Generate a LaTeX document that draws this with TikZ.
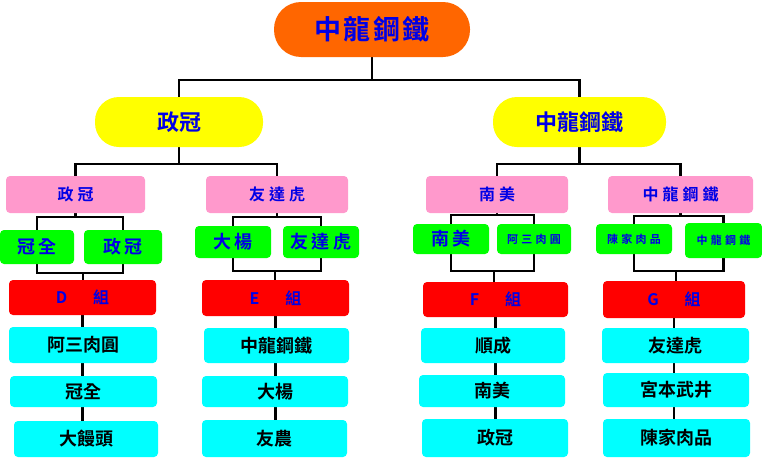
\documentclass[tikz,border=0pt]{standalone}
\usepackage{fontspec}
\newfontfamily\cjk{Noto Sans CJK TC}[BoldFont={Noto Sans CJK TC Bold}]
\usetikzlibrary{backgrounds}
\definecolor{orangeC}{RGB}{255,102,0}
\definecolor{yellowC}{RGB}{255,255,0}
\definecolor{pinkC}{RGB}{255,153,204}
\definecolor{greenC}{RGB}{0,255,0}
\definecolor{redC}{RGB}{255,0,0}
\definecolor{cyanC}{RGB}{0,255,255}
\definecolor{txtblue}{RGB}{0,0,230}
\newcommand\mybox[7]{%
  \node[#1, minimum width={#5-#3}, minimum height={#6-#4}] (#2) at ({(#3+#5)/2},{(#4+#6)/2}) {#7};}
\tikzset{
  base/.style={inner sep=0pt, outer sep=0pt, align=center},
  topbox/.style={base, fill=orangeC, rounded corners=27pt, text=txtblue,
    font={\cjk\bfseries\fontsize{27}{27}\selectfont\addfontfeatures{LetterSpace=8}}},
  yelbox/.style={base, fill=yellowC, rounded corners=24pt, text=txtblue,
    font={\cjk\bfseries\fontsize{22}{22}\selectfont}},
  pinkbox/.style={base, fill=pinkC, rounded corners=4pt, text=txtblue,
    font={\cjk\bfseries\fontsize{16}{16}\selectfont\addfontfeatures{LetterSpace=25}}},
  grnbox/.style={base, fill=greenC, rounded corners=4pt, text=txtblue,
    font={\cjk\bfseries\fontsize{18}{18}\selectfont\addfontfeatures{LetterSpace=20}}},
  grnsmall/.style={grnbox, font={\cjk\bfseries\fontsize{11}{11}\selectfont\addfontfeatures{LetterSpace=30}}},
  redbox/.style={base, fill=redC, rounded corners=4pt, text=txtblue,
    font={\cjk\bfseries\fontsize{16}{16}\selectfont}},
  cyanbox/.style={base, fill=cyanC, rounded corners=4pt, text=black,
    font={\cjk\bfseries\fontsize{18}{18}\selectfont}},
  conn/.style={draw=black, line width=2.6pt},
}
\begin{document}
\begin{tikzpicture}[x=1pt,y=-1pt]
\useasboundingbox (0,0) rectangle (762,458);
% top levels
\mybox{topbox}{top}{274}{2}{470}{57}{中龍鋼鐵}
\mybox{yelbox}{y1}{95}{97}{263}{147}{政冠}
\mybox{yelbox}{y2}{493}{97}{666}{147}{中龍鋼鐵}
% pink
\mybox{pinkbox}{p1}{6}{176}{145}{213}{政冠}
\mybox{pinkbox}{p2}{206}{176}{348}{213}{友達虎}
\mybox{pinkbox}{p3}{426}{176}{568}{213}{南美}
\mybox{pinkbox}{p4}{608}{176}{753}{213}{中龍鋼鐵}
% green
\mybox{grnbox}{g1a}{0}{230}{74}{264}{冠全}
\mybox{grnbox}{g1b}{84}{230}{162}{264}{政冠}
\mybox{grnbox}{g2a}{195}{226}{271}{258}{大楊}
\mybox{grnbox}{g2b}{283}{226}{359}{258}{友達虎}
\mybox{grnbox}{g3a}{413}{224}{489}{254}{南美}
\mybox{grnsmall}{g3b}{497}{224}{571}{254}{阿三肉圓}
\mybox{grnsmall}{g4a}{596}{224}{672}{254}{陳家肉品}
\mybox{grnsmall}{g4b}{685}{223}{762}{258}{中龍鋼鐵}
% red
\mybox{redbox}{r1}{9}{280}{156}{315}{D\hspace{26pt}組}
\mybox{redbox}{r2}{202}{280}{349}{316}{E\hspace{26pt}組}
\mybox{redbox}{r3}{423}{282}{568}{317}{F\hspace{26pt}組}
\mybox{redbox}{r4}{603}{281}{745}{318}{G\hspace{26pt}組}
% cyan D
\mybox{cyanbox}{c11}{9}{327}{157}{363}{阿三肉圓}
\mybox{cyanbox}{c12}{10}{376}{157}{407}{冠全}
\mybox{cyanbox}{c13}{14}{421}{158}{457}{大饅頭}
% cyan E
\mybox{cyanbox}{c21}{204}{328}{349}{363}{中龍鋼鐵}
\mybox{cyanbox}{c22}{202}{376}{348}{407}{大楊}
\mybox{cyanbox}{c23}{202}{420}{347}{457}{友農}
% cyan F
\mybox{cyanbox}{c31}{421}{328}{565}{363}{順成}
\mybox{cyanbox}{c32}{419}{375}{565}{407}{南美}
\mybox{cyanbox}{c33}{422}{419}{568}{457}{政冠}
% cyan G
\mybox{cyanbox}{c41}{602}{328}{749}{363}{友達虎}
\mybox{cyanbox}{c42}{603}{373}{749}{407}{宮本武井}
\mybox{cyanbox}{c43}{603}{419}{750}{457}{陳家肉品}
% connectors
\begin{pgfonlayer}{background}
\coordinate (j0) at (372,80);
\draw[conn] (top.south) -- (j0);
\draw[conn] (y1.north) |- (j0) -| (y2.north);
\coordinate (j1) at (y1.south |- 0,164);
\draw[conn] (y1.south) -- (j1);
\draw[conn] (p1.north) |- (j1) -| (p2.north);
\coordinate (j2) at (y2.south |- 0,164);
\draw[conn] (y2.south) -- (j2);
\draw[conn] (p3.north) |- (j2) -| (p4.north);
% under pink
\coordinate (k1) at (p1.south |- 0,217);
\draw[conn] (p1.south) -- (k1);
\draw[conn] (g1a.north) |- (k1) -| (g1b.north);
\coordinate (k2) at (p2.south |- 0,217);
\draw[conn] (p2.south) -- (k2);
\draw[conn] (g2a.north) |- (k2) -| (g2b.north);
\coordinate (k3) at (p3.south |- 0,215);
\draw[conn] (p3.south) -- (k3);
\draw[conn] (g3a.north) |- (k3) -| (g3b.north);
\coordinate (k4) at (p4.south |- 0,216);
\draw[conn] (p4.south) -- (k4);
\draw[conn] (g4a.north) |- (k4) -| (g4b.north);
% under green
\coordinate (m1) at (83,273);
\draw[conn] (g1a.south) |- (m1) -| (g1b.south);
\draw[conn] (m1) -- (m1 |- r1.north);
\coordinate (m2) at (275,271);
\draw[conn] (g2a.south) |- (m2) -| (g2b.south);
\draw[conn] (m2) -- (m2 |- r2.north);
\coordinate (m3) at (494,271);
\draw[conn] (g3a.south) |- (m3) -| (g3b.south);
\draw[conn] (m3) -- (m3 |- r3.north);
\coordinate (m4) at (676,271);
\draw[conn] (g4a.south) |- (m4) -| (g4b.south);
\draw[conn] (m4) -- (m4 |- r4.north);
% columns
\draw[conn] (r1.south) -- (r1.south |- c13.north);
\draw[conn] (r2.south) -- (r2.south |- c23.north);
\draw[conn] (r3.south) -- (r3.south |- c33.north);
\draw[conn] (r4.south) -- (r4.south |- c43.north);
\end{pgfonlayer}
\end{tikzpicture}
\end{document}
